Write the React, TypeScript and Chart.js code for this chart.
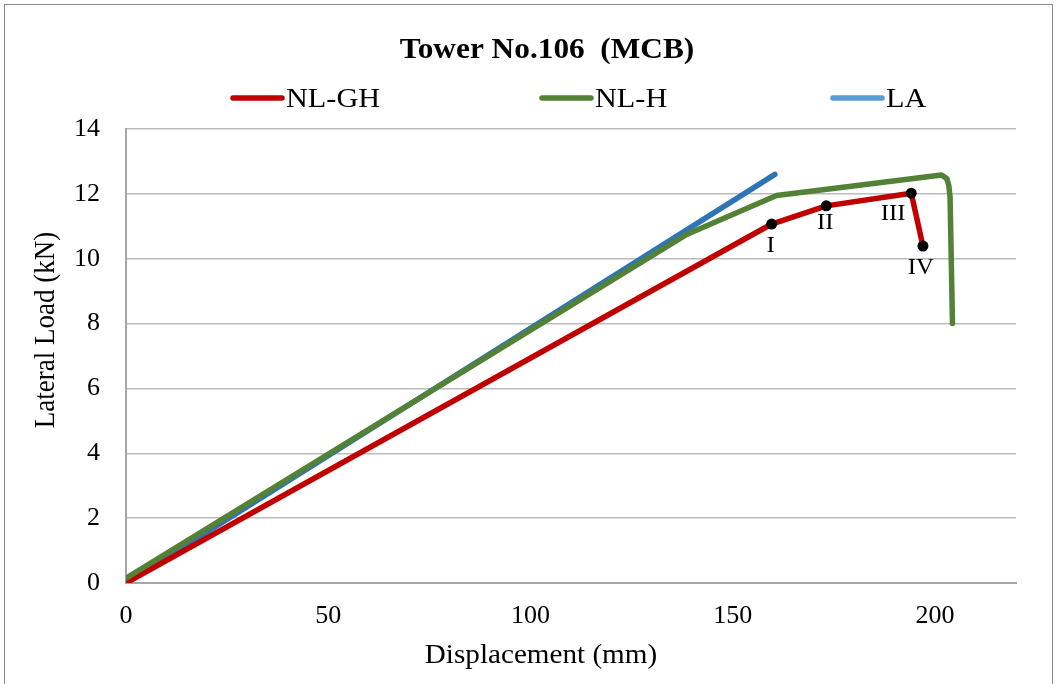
import React, { useEffect, useRef } from "react";
import { Chart, registerables } from "chart.js";

Chart.register(...registerables);

const titleText = "Tower No.106  (MCB)";
const xAxisTitle = "Displacement (mm)";
const yAxisTitle = "Lateral Load (kN)";
const seriesNames = ["NL-GH", "NL-H", "LA"];

// NL-GH (red) with stage markers
const nlghX = [0, 159.6, 173.1, 194.1, 197.0];
const nlghY = [0, 11.07, 11.63, 12.02, 10.39];
const stageLabels = ["", "I", "II", "III", "IV"];

// NL-H (green)
const nlhX = [0, 138.3, 160.8, 201.6, 202.9, 203.4, 203.7, 204.3];
const nlhY = [0.15, 10.73, 11.95, 12.58, 12.47, 12.25, 11.9, 8.0];

// LA (blue)
const laX = [0, 160.4];
const laY = [0, 12.6];

const xTicks = [0, 50, 100, 150, 200];
const yTicks = [0, 2, 4, 6, 8, 10, 12, 14];

const SERIF = "'Liberation Serif', 'Times New Roman', serif";
const RED = "#c00000";
const GREEN = "#538135";
const BLUE = "#2e75b6";
const BLUE_LEGEND = "#5b9bd5";

const toPts = (xs: number[], ys: number[]) => xs.map((x, i) => ({ x, y: ys[i] }));

function stretchedText(
  ctx: CanvasRenderingContext2D,
  text: string,
  x: number,
  y: number,
  font: string,
  align: CanvasTextAlign,
  baseline: CanvasTextBaseline,
  sx: number
) {
  ctx.save();
  ctx.translate(x, y);
  ctx.scale(sx, 1);
  ctx.font = font;
  ctx.textAlign = align;
  ctx.textBaseline = baseline;
  ctx.fillStyle = "#000";
  ctx.fillText(text, 0, 0);
  ctx.restore();
}

const decorPlugin = {
  id: "decor",
  afterDraw(chart: any) {
    const ctx: CanvasRenderingContext2D = chart.ctx;
    const sx = 1.08;
    // title
    stretchedText(ctx, titleText, 547, 58, `bold 29px ${SERIF}`, "center", "alphabetic", sx);
    // legend
    const legendColors = [RED, GREEN, BLUE_LEGEND];
    const starts = [231, 540, 831];
    seriesNames.forEach((name, i) => {
      const x0 = starts[i];
      ctx.save();
      ctx.strokeStyle = legendColors[i];
      ctx.lineWidth = 5.5;
      ctx.lineCap = "round";
      ctx.beginPath();
      ctx.moveTo(x0 + 2, 98);
      ctx.lineTo(x0 + 51, 98);
      ctx.stroke();
      ctx.restore();
      stretchedText(ctx, name, x0 + 55, 107, `28px ${SERIF}`, "left", "alphabetic", sx);
    });
    // axis titles
    stretchedText(ctx, xAxisTitle, 541, 663, `27px ${SERIF}`, "center", "alphabetic", sx);
    ctx.save();
    ctx.translate(54, 330);
    ctx.rotate(-Math.PI / 2);
    ctx.scale(1, 1.08);
    ctx.font = `27px ${SERIF}`;
    ctx.textAlign = "center";
    ctx.textBaseline = "alphabetic";
    ctx.fillStyle = "#000";
    ctx.fillText(yAxisTitle, 0, 0);
    ctx.restore();
    // stage labels
    const meta = chart.getDatasetMeta(0);
    const offs = [
      [0, 0],
      [-1, 22],
      [-1, 17],
      [-18, 21],
      [-2, 22],
    ];
    stageLabels.forEach((lab, i) => {
      if (!lab) return;
      const el = meta.data[i];
      stretchedText(ctx, lab, el.x + offs[i][0], el.y + offs[i][1], `23px ${SERIF}`, "center", "middle", sx);
    });
  },
};

export default function App() {
  const ref = useRef<HTMLCanvasElement | null>(null);
  useEffect(() => {
    if (!ref.current) return;
    const chart = new Chart(ref.current, {
      type: "scatter",
      data: {
        datasets: [
          {
            label: seriesNames[0],
            data: toPts(nlghX, nlghY),
            showLine: true,
            borderColor: RED,
            backgroundColor: "#000",
            borderWidth: 5.5,
            pointRadius: nlghX.map((_, i) => (i === 0 ? 0 : 5.5)),
            pointBackgroundColor: "#000",
            pointBorderWidth: 0,
            borderJoinStyle: "round",
            borderCapStyle: "round",
            order: 1,
          },
          {
            label: seriesNames[1],
            data: toPts(nlhX, nlhY),
            showLine: true,
            borderColor: GREEN,
            backgroundColor: GREEN,
            borderWidth: 5.5,
            pointRadius: 0,
            borderJoinStyle: "round",
            borderCapStyle: "round",
            order: 0,
          },
          {
            label: seriesNames[2],
            data: toPts(laX, laY),
            showLine: true,
            borderColor: BLUE,
            backgroundColor: BLUE,
            borderWidth: 5.5,
            pointRadius: 0,
            borderJoinStyle: "round",
            borderCapStyle: "round",
            order: 2,
          },
        ],
      },
      options: {
        responsive: false,
        animation: false,
        layout: { padding: { left: 0, top: 129, right: 42, bottom: 0 } },
        plugins: {
          legend: { display: false },
          title: { display: false },
          tooltip: { enabled: false },
        },
        scales: {
          x: {
            type: "linear",
            min: 0,
            max: 220,
            afterBuildTicks: (s: any) => {
              s.ticks = xTicks.map((v) => ({ value: v }));
            },
            afterFit: (s: any) => {
              s.height = 101;
            },
            grid: { display: false, drawTicks: false },
            border: { display: true, color: "#a6a6a6", width: 2 },
            ticks: {
              includeBounds: false,
              padding: 18,
              color: "#000",
              font: { family: SERIF, size: 26 },
              maxRotation: 0,
            },
          },
          y: {
            type: "linear",
            min: 0,
            max: 14,
            afterBuildTicks: (s: any) => {
              s.ticks = yTicks.map((v) => ({ value: v }));
            },
            afterFit: (s: any) => {
              s.width = 126;
            },
            grid: { color: "#bcbcbc", lineWidth: 1.5, drawTicks: false },
            border: { display: true, color: "#a6a6a6", width: 2 },
            ticks: {
              padding: 26,
              color: "#000",
              font: { family: SERIF, size: 26 },
            },
          },
        },
      },
      plugins: [decorPlugin],
    } as any);
    return () => chart.destroy();
  }, []);
  return (
    <div style={{ position: "fixed", left: 0, top: 0, width: 1058, height: 684, background: "#fff", overflow: "hidden" }}>
      <div
        style={{
          position: "absolute",
          left: 4,
          top: 4,
          width: 1049,
          height: 720,
          border: "1.5px solid #8c8c8c",
          boxSizing: "border-box",
        }}
      />
      <canvas ref={ref} width={1058} height={684} style={{ position: "absolute", left: 0, top: 0 }} />
    </div>
  );
}
